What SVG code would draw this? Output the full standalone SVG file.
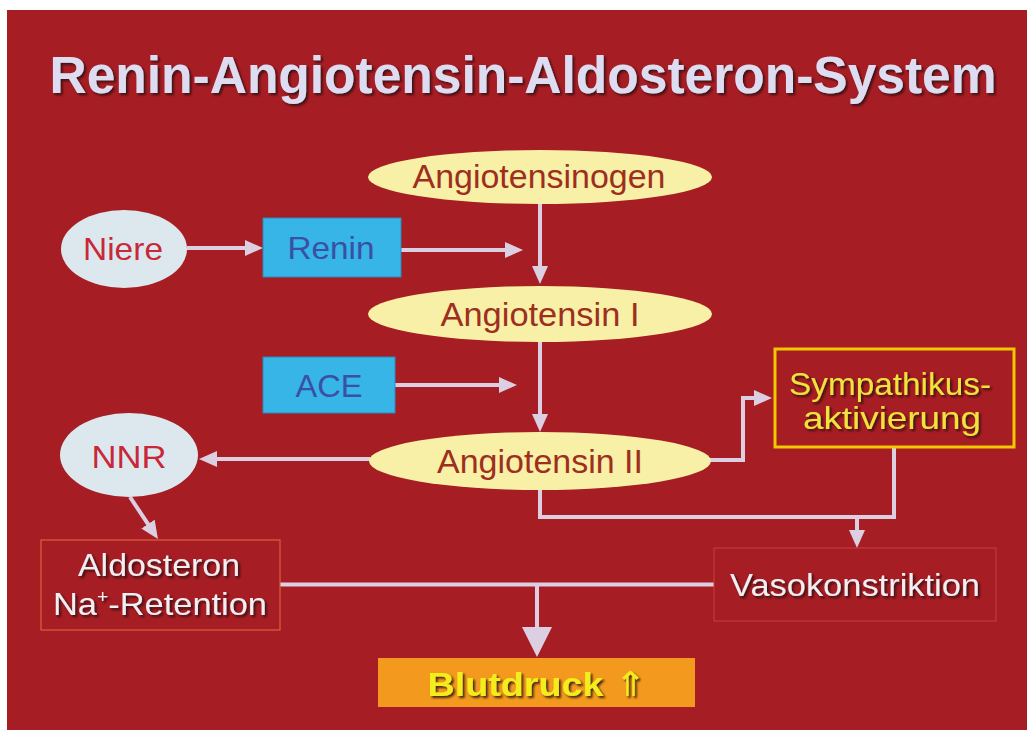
<svg xmlns="http://www.w3.org/2000/svg" width="1027" height="731" viewBox="0 0 1027 731">
<style>
.t{font-family:"Liberation Sans",Arial,sans-serif;text-anchor:middle}
.ell{fill:#f8f0a6}
.etx{fill:#9e2e1e;font-size:33px}
.blue{fill:#dde8ee}
.btx{fill:#c8283a;font-size:32px}
.cy{fill:#36b5e6;stroke:#2a8cc0;stroke-width:1}
.ctx{fill:#3a4fa6;font-size:32px}
.con{fill:none;stroke:#dccfe2;stroke-width:4}
.wtx{fill:#f2eef2;font-size:32px}
</style>
<defs>
<marker id="ah" viewBox="0 0 18 16" markerWidth="18" markerHeight="16" refX="4" refY="8" orient="auto" markerUnits="userSpaceOnUse">
<path d="M0,0 L18,8 L0,16 Z" fill="#dccfe2"/>
</marker>
<filter id="sh" x="-5%" y="-20%" width="110%" height="150%">
<feDropShadow dx="2" dy="2" stdDeviation="0.8" flood-color="#2a0808" flood-opacity="0.85"/>
</filter>
</defs>
<rect x="7" y="10" width="1020" height="720" fill="#a61d24"/>
<text id="title" class="t" x="523" y="93" font-size="51" font-weight="bold" fill="#dedcf0" filter="url(#sh)" textLength="947" lengthAdjust="spacingAndGlyphs">Renin-Angiotensin-Aldosteron-System</text>

<g id="connectors">
<path class="con" d="M187,248 H249" marker-end="url(#ah)"/>
<path class="con" d="M401,250 H509" marker-end="url(#ah)"/>
<path class="con" d="M540,204 V270" marker-end="url(#ah)"/>
<path class="con" d="M395,385 H503" marker-end="url(#ah)"/>
<path class="con" d="M540,342 V418" marker-end="url(#ah)"/>
<path class="con" d="M370,459 H213" marker-end="url(#ah)"/>
<path class="con" d="M130,497 L150.2,527.4" marker-end="url(#ah)"/>
<path class="con" d="M709,460 H743 V398 H758" marker-end="url(#ah)"/>
<path class="con" d="M540,490 V517 H894 V448"/>
<path class="con" d="M857,517 V534" marker-end="url(#ah)"/>
<path class="con" d="M280,584.5 H714" stroke-width="8"/>
<path class="con" d="M537,584 V630" stroke-width="8"/>
<polygon points="522,627 552,627 537,657" fill="#dccfe2"/>
</g>

<g id="angiotensinogen">
<ellipse class="ell" cx="540" cy="177" rx="172" ry="27"/>
<text class="t etx" x="539" y="188" textLength="253" lengthAdjust="spacingAndGlyphs">Angiotensinogen</text>
</g>
<g id="angiotensin1">
<ellipse class="ell" cx="540" cy="314" rx="172" ry="28"/>
<text class="t etx" x="540" y="326" textLength="199" lengthAdjust="spacingAndGlyphs">Angiotensin I</text>
</g>
<g id="angiotensin2">
<ellipse class="ell" cx="540" cy="461" rx="171" ry="29"/>
<text class="t etx" x="540" y="473" textLength="206" lengthAdjust="spacingAndGlyphs">Angiotensin II</text>
</g>
<g id="niere">
<ellipse class="blue" cx="124" cy="249" rx="63" ry="39"/>
<text class="t btx" x="123" y="260" textLength="80" lengthAdjust="spacingAndGlyphs">Niere</text>
</g>
<g id="renin">
<rect class="cy" x="263" y="218" width="138" height="59"/>
<text class="t ctx" x="331" y="259" textLength="87" lengthAdjust="spacingAndGlyphs">Renin</text>
</g>
<g id="ace">
<rect class="cy" x="263" y="357" width="132" height="56"/>
<text class="t ctx" x="329" y="397" textLength="67" lengthAdjust="spacingAndGlyphs">ACE</text>
</g>
<g id="nnr">
<ellipse class="blue" cx="129" cy="455" rx="69" ry="42"/>
<text class="t btx" x="129" y="468" textLength="75" lengthAdjust="spacingAndGlyphs">NNR</text>
</g>
<g id="sympathikus">
<rect x="775" y="349" width="239" height="98" fill="#a61d24" stroke="#f2c800" stroke-width="3"/>
<text class="t" x="890" y="395" font-size="32" fill="#f2e23c" filter="url(#sh)" textLength="202" lengthAdjust="spacingAndGlyphs">Sympathikus-</text>
<text class="t" x="892" y="429" font-size="32" fill="#f2e23c" filter="url(#sh)" textLength="178" lengthAdjust="spacingAndGlyphs">aktivierung</text>
</g>
<g id="aldosteron">
<rect x="41" y="540" width="239" height="90" fill="none" stroke="#e0603c" stroke-width="1.2"/>
<text class="t wtx" x="159" y="576" filter="url(#sh)" textLength="162" lengthAdjust="spacingAndGlyphs">Aldosteron</text>
<text class="t wtx" x="160" y="615" filter="url(#sh)" textLength="214" lengthAdjust="spacingAndGlyphs">Na<tspan font-size="18" dy="-12">+</tspan><tspan dy="12">-Retention</tspan></text>
</g>
<g id="vasokonstriktion">
<rect x="714" y="548" width="282" height="73" fill="none" stroke="#c8403c" stroke-width="1"/>
<text class="t wtx" x="855" y="596" filter="url(#sh)" textLength="250" lengthAdjust="spacingAndGlyphs">Vasokonstriktion</text>
</g>
<g id="blutdruck">
<rect x="378" y="658" width="317" height="49" fill="#f39a1e"/>
<text class="t" x="537" y="696" font-size="33" font-weight="bold" fill="#f4ec1c" filter="url(#sh)" textLength="219" lengthAdjust="spacingAndGlyphs">Blutdruck <tspan font-family="DejaVu Sans" font-weight="normal" font-size="34">⇑</tspan></text>
</g>
</svg>
